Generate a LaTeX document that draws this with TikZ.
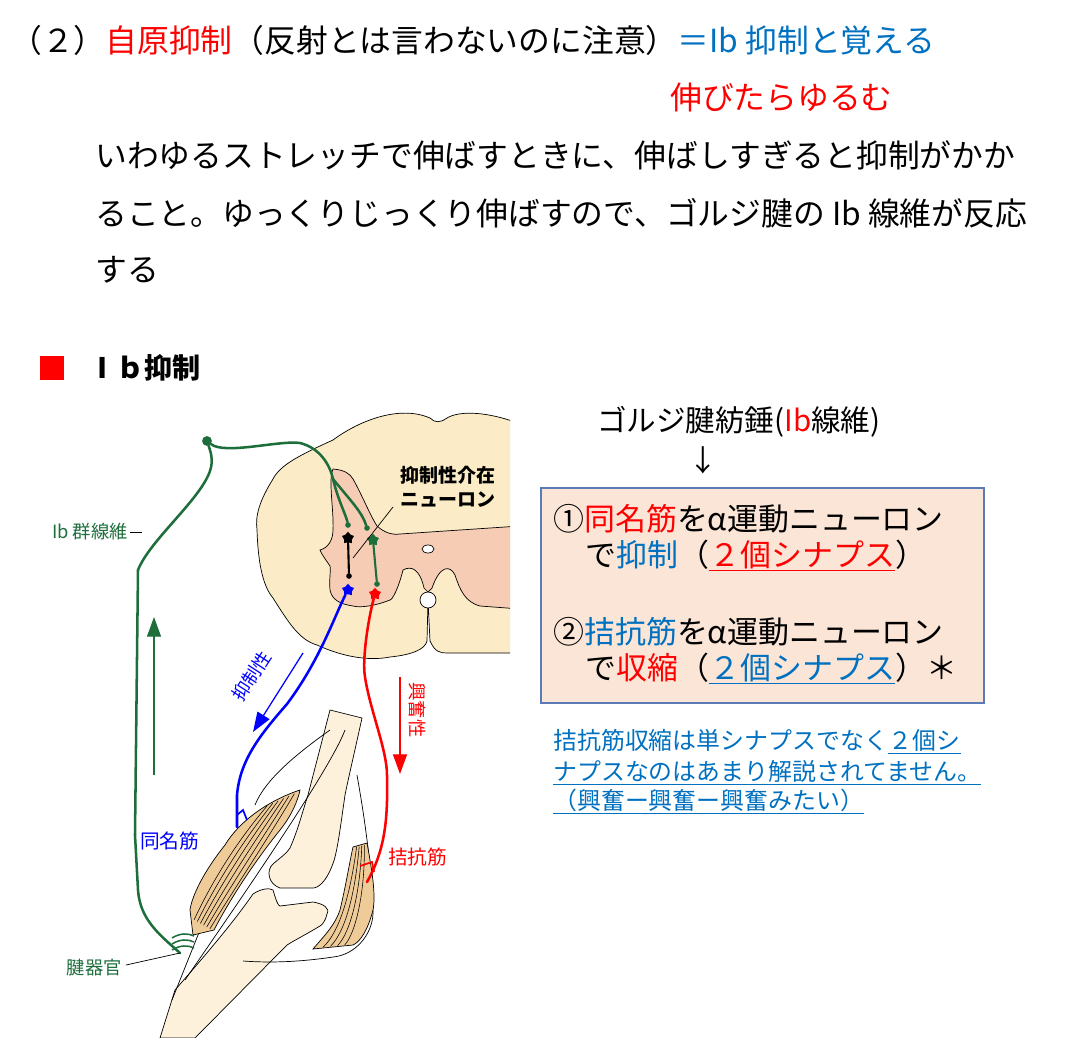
\documentclass[tikz,border=0pt]{standalone}
\usepackage{fontspec}
\setmainfont{Noto Sans CJK JP}
\usepackage{tikz}
\usetikzlibrary{arrows.meta,shapes.geometric,positioning,calc}
\definecolor{ibgreen}{HTML}{1E6E3C}
\definecolor{txtblue}{HTML}{0070C0}
\definecolor{cordcream}{HTML}{FBEBC6}
\definecolor{graypink}{HTML}{F6CDB4}
\definecolor{bonecol}{HTML}{FDF1DC}
\definecolor{musclecol}{HTML}{EFCB98}
\definecolor{boxfill}{HTML}{FBE5D6}
\definecolor{boxline}{HTML}{5A7BB5}
\tikzset{>=latex}
\tikzset{big/.style={font=\fontsize{22.6}{26}\selectfont, inner sep=0pt, anchor=west},
         boxtxt/.style={font=\fontsize{22}{26}\selectfont, inner sep=0pt, anchor=base west},
         note/.style={font=\fontsize{17}{20}\selectfont, inner sep=0pt, anchor=base west, text=txtblue},
         lbl/.style={font=\fontsize{13}{15}\selectfont, inner sep=0pt},
         fiber/.style={line width=1.8pt, line cap=round},
         nrn/.style={star, star points=5, fill, inner sep=0pt, minimum size=9pt},
         knob/.style={circle, fill, inner sep=0pt, minimum size=4pt},
         thin line/.style={black, line width=0.5pt}}
\begin{document}
\begin{tikzpicture}[x=0.025cm, y=-0.025cm]
\useasboundingbox (0,0) rectangle (1068,1038);

% heading text
\node[big] (t1) at (10,40) {（２）\textcolor{red}{自原抑制}（反射とは言わないのに注意）\textcolor{txtblue}{＝Ib 抑制と覚える}};
\node[big, text=red] (t2) at (670,97) {伸びたらゆるむ};
\node[big] (t3) at (95,155) {いわゆるストレッチで伸ばすときに、伸ばしすぎると抑制がかか};
\node[big] (t4) at (95,213) {ること。ゆっくりじっくり伸ばすので、ゴルジ腱の Ib 線維が反応};
\node[big] (t5) at (95,270) {する};
\node[fill=red, minimum size=17pt, inner sep=0pt] (sq) at (52,368) {};
\node[big, font=\fontsize{20}{24}\selectfont\bfseries] (ttl) at (88,368) {Ⅰｂ抑制};

% spinal cord
\begin{scope}
\clip (240,400) rectangle (510,680);
\draw[thin line, fill=cordcream] (430,418) .. controls (400,405) and (360,420) .. (333,440)
  .. controls (300,455) and (280,465) .. (273,479) .. controls (260,500) and (255,515) .. (257,530)
  .. controls (258,560) and (262,585) .. (273,598) .. controls (290,625) and (300,640) .. (317,645)
  .. controls (350,660) and (375,660) .. (390,657) .. controls (410,655) and (425,650) .. (427,641)
  -- (428,600) -- (430,641) .. controls (435,652) and (440,653) .. (447,653) -- (520,653)
  -- (520,424) .. controls (490,412) and (460,410) .. (447,418) .. controls (440,423) and (435,423) .. (430,418);
\draw[thin line, fill=graypink] (333,469) .. controls (345,470) and (350,474) .. (353,479)
  .. controls (362,495) and (370,515) .. (377,526) .. controls (385,533) and (392,535) .. (400,534)
  -- (520,526) -- (520,609) -- (480,606) .. controls (465,602) and (460,590) .. (455,575)
  .. controls (450,565) and (440,565) .. (432,588) -- (428,592) -- (424,588)
  .. controls (420,570) and (412,565) .. (403,570) .. controls (398,590) and (392,600) .. (390,600)
  .. controls (375,606) and (360,608) .. (353,606) .. controls (340,604) and (332,600) .. (330,590)
  .. controls (329,580) and (331,570) .. (330,566) .. controls (326,560) and (322,555) .. (320,550)
  .. controls (328,548) and (333,540) .. (333,530) .. controls (334,510) and (328,480) .. (333,469) -- cycle;
\end{scope}
\draw[thin line, fill=white] (428,600) circle (8);
\draw[thin line, fill=white] (428,549) ellipse (6 and 4);

% leg: bones
\draw[thin line, fill=bonecol] (330,710) -- (362,718) .. controls (355,750) and (348,780) .. (345,795)
  .. controls (340,830) and (337,855) .. (332,866) .. controls (326,882) and (318,888) .. (313,888)
  -- (280,888) .. controls (268,884) and (266,870) .. (273,864) .. controls (280,858) and (287,853) .. (290,848)
  .. controls (298,830) and (303,810) .. (308,795) -- cycle;
\draw[thin line, fill=bonecol] (253,894) .. controls (262,888) and (270,888) .. (273,890)
  .. controls (276,900) and (278,906) .. (280,906) -- (313,902) .. controls (324,904) and (330,908) .. (327,914)
  .. controls (325,922) and (322,925) .. (320,926) .. controls (305,935) and (295,940) .. (287,945)
  -- (195,1038) -- (160,1038) -- (175,990) .. controls (210,950) and (235,920) .. (253,894);
% leg: outline lines
\draw[thin line] (330,730) .. controls (295,755) and (265,780) .. (255,805);
\draw[thin line] (357,775) .. controls (365,820) and (372,870) .. (373,914)
  .. controls (372,935) and (355,955) .. (333,957) .. controls (300,962) and (270,963) .. (243,961);
\draw[thin line] (345,730) .. controls (330,770) and (240,900) .. (185,980);
\draw[thin line] (200,930) -- (172,1000);

% muscles
\draw[thin line, fill=musclecol] (300,790) .. controls (270,800) and (240,820) .. (225,845)
  .. controls (205,870) and (192,895) .. (190,910) -- (193,935) -- (214,930)
  .. controls (235,890) and (260,855) .. (280,830) .. controls (292,815) and (298,800) .. (300,790) -- cycle;
\foreach \t in {0.15,0.3,0.45,0.6,0.75,0.9}
  \draw[line width=0.4pt] ($(262,808)!\t!(298,792)$) .. controls ($(228,845)!\t!(270,842)$) and ($(205,885)!\t!(240,885)$) .. ($(191,918)!\t!(212,930)$);
\draw[thin line, fill=musclecol] (353,847) -- (367,843) .. controls (372,870) and (376,895) .. (373,910)
  .. controls (368,930) and (360,942) .. (353,945) -- (313,949) .. controls (325,935) and (335,925) .. (340,910)
  .. controls (346,885) and (350,860) .. (353,847) -- cycle;
\foreach \t in {0.2,0.4,0.6,0.8}
  \draw[line width=0.4pt] ($(354,848)!\t!(367,844)$) .. controls ($(345,895)!\t!(370,895)$) and ($(335,930)!\t!(360,935)$) .. ($(316,948)!\t!(352,944)$);

% Ib fiber
\node[knob, ibgreen, minimum size=7pt] (gdot) at (207,441) {};
\node[knob, ibgreen] (ge1) at (348,525) {};
\node[knob, ibgreen] (ge2) at (367,528) {};
\coordinate (gto) at (180,953);
\draw[fiber, ibgreen] (gto) .. controls (160,935) and (140,920) .. (138,890)
  -- (135,835) -- (138,570) .. controls (150,540) and (200,500) .. (210,471) .. controls (214,460) and (210,450) .. (gdot);
\draw[fiber, ibgreen] (gdot) .. controls (225,455) and (280,440) .. (300,443) .. controls (320,448) and (330,465) .. (333,479)
  .. controls (338,500) and (346,515) .. (ge1);
\draw[fiber, ibgreen] (333,479) .. controls (350,500) and (362,512) .. (ge2);
\foreach \i in {0,1,2}
  \draw[ibgreen, line width=1.1pt] (172,938+\i*6) .. controls (180,933+\i*6) and (188,933+\i*6) .. (194,936+\i*6);
\node[lbl, text=ibgreen, anchor=east] (iblbl) at (128,532) {Ib 群線維};
\draw[thin line] (iblbl.east) ++(2,0) -- (142,532);
\node[lbl, text=ibgreen, anchor=east] (gtolbl) at (122,968) {腱器官};
\draw[thin line] (126,965) -- (gto);

% interneurons
\node[nrn] (inh) at (348,538) {};
\node[knob] (inhd) at (349,576) {};
\draw[fiber, line width=1.5pt] (inh) -- (inhd);
\node[nrn, ibgreen] (exc) at (373,540) {};
\node[knob, ibgreen] (excd) at (377,584) {};
\draw[fiber, ibgreen, line width=1.5pt] (exc) -- (excd);
\node[lbl, font=\fontsize{13.5}{17}\selectfont\bfseries, anchor=north west, align=left] (inlbl) at (400,466) {抑制性介在\\ニューロン};
\draw[thin line] (393,507) -- (353,558);

% motor neurons
\node[nrn, blue] (mn1) at (348,590) {};
\draw[fiber, blue] (mn1) .. controls (335,615) and (320,660) .. (287,704)
  .. controls (260,735) and (240,760) .. (237,795) -- (237,827);
\draw[blue, line width=1.2pt] (237,815) -- (243,810) -- (247,820);
\node[nrn, red] (mn2) at (375,594) {};
\draw[fiber, red] (mn2) .. controls (368,620) and (362,660) .. (365,677)
  .. controls (370,710) and (387,750) .. (387,775) .. controls (388,820) and (385,850) .. (367,882);
\draw[red, line width=1.2pt] (360,866) -- (372,862) -- (374,872);

% direction arrows
\draw[-{Triangle[length=14pt,width=10pt]}, ibgreen, line width=0.9pt] (154,775) -- (154,617);
\draw[-{Triangle[length=14pt,width=10pt]}, blue, line width=0.9pt] (303,653) -- (253,732);
\draw[-{Triangle[length=14pt,width=10pt]}, red, line width=0.9pt] (400,677) -- (400,774);
\node[lbl, text=blue, rotate=57] (inhlbl) at (252,676) {抑制性};
\node[lbl, text=red, rotate=-90] (exclbl) at (417,710) {興奮性};
\node[lbl, text=blue, anchor=west, font=\fontsize{14}{17}\selectfont] (m1lbl) at (140,841) {同名筋};
\node[lbl, text=red, anchor=west, font=\fontsize{14}{17}\selectfont] (m2lbl) at (388,857) {拮抗筋};

% right panel
\node[big, font=\fontsize{21}{25}\selectfont] (golgi) at (597,422) {ゴルジ腱紡錘(\textcolor{red}{Ib}線維)};
\node[big, font=\fontsize{21}{25}\selectfont, anchor=center] (darr) at (703,460) {↓};
\draw[boxline, fill=boxfill, line width=0.8pt] (541,488) rectangle (984,703);
\node[boxtxt] (b1) at (553,530) {①\textcolor{red}{同名筋}をα運動ニューロン};
\node[boxtxt] (b2a) at (585,566) {で\textcolor{txtblue}{抑制}（};
\node[boxtxt, text=red, anchor=base west] (b2b) at (b2a.base east) {２個シナプス};
\node[boxtxt, anchor=base west] (b2c) at (b2b.base east) {）};
\draw[red, line width=1pt] ([yshift=-3pt]b2b.base west) -- ([yshift=-3pt]b2b.base east);
\node[boxtxt] (b3) at (553,643) {②\textcolor{txtblue}{拮抗筋}をα運動ニューロン};
\node[boxtxt] (b4a) at (585,679) {で\textcolor{red}{収縮}（};
\node[boxtxt, text=txtblue, anchor=base west] (b4b) at (b4a.base east) {２個シナプス};
\node[boxtxt, anchor=base west] (b4c) at (b4b.base east) {）＊};
\draw[txtblue, line width=1pt] ([yshift=-3pt]b4b.base west) -- ([yshift=-3pt]b4b.base east);
\node[note] (n1a) at (553,749) {拮抗筋収縮は単シナプスでなく};
\node[note, anchor=base west] (n1b) at (n1a.base east) {２個シ};
\node[note] (n2) at (553,780) {ナプスなのはあまり解説されてません。};
\node[note] (n3) at (553,809) {（興奮ー興奮ー興奮みたい）};
\draw[txtblue, line width=0.8pt] ([yshift=-3pt]n1b.base west) -- ([yshift=-3pt]n1b.base east);
\draw[txtblue, line width=0.8pt] ([yshift=-3pt]n2.base west) -- ([yshift=-3pt]n2.base east) ++(8,0);
\draw[txtblue, line width=0.8pt] ([yshift=-3pt]n3.base west) -- ([yshift=-3pt]n3.base east) ++(8,0);
\end{tikzpicture}
\end{document}
